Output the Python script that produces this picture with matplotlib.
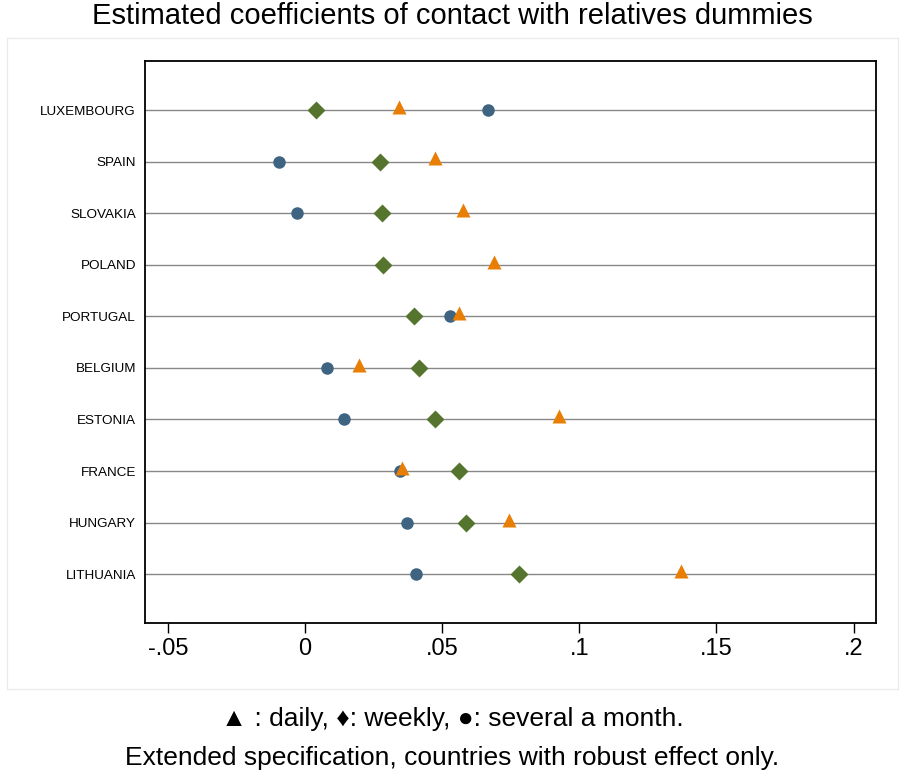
import matplotlib
matplotlib.use("Agg")
import matplotlib.pyplot as plt
from matplotlib.patches import Rectangle

plt.rcParams['font.family'] = ['Liberation Sans', 'DejaVu Sans']

# countries from top to bottom
countries = ["LUXEMBOURG", "SPAIN", "SLOVAKIA", "POLAND", "PORTUGAL",
             "BELGIUM", "ESTONIA", "FRANCE", "HUNGARY", "LITHUANIA"]
# coefficients (None = not robust, not shown)
daily = [0.0343, 0.0474, 0.0577, 0.0688, 0.0563, 0.0197, 0.0925, 0.0354, 0.0745, 0.1372]
weekly = [0.0040, 0.0273, 0.0280, 0.0286, 0.0397, 0.0416, 0.0474, 0.0561, 0.0587, 0.0780]
monthly = [0.0667, -0.0095, -0.0029, None, 0.0529, 0.0080, 0.0143, 0.0348, 0.0372, 0.0405]

xticks = [-0.05, 0, 0.05, 0.1, 0.15, 0.2]
xticklabels = ["-.05", "0", ".05", ".1", ".15", ".2"]

fig = plt.figure(figsize=(9.05, 7.83), dpi=100)
ax = fig.add_axes([145/905, 1-622.7/783, (876-145)/905, (622.7-61)/783])

n = len(countries)
ypos = [n - i for i in range(n)]

for y in ypos:
    ax.axhline(y, color="#888888", lw=1.0, zorder=1)

def pts(vals):
    xs, ys = [], []
    for v, y in zip(vals, ypos):
        if v is not None:
            xs.append(v)
            ys.append(y)
    return xs, ys

x, y = pts(monthly)
ax.plot(x, y, "o", ls="none", color="#3e6482", ms=9, mec="none", zorder=3)
x, y = pts(weekly)
ax.plot(x, y, "D", ls="none", color="#55752f", ms=9.3, mec="none", zorder=3)
x, y = pts(daily)
ax.plot(x, [v + 0.06 for v in y], "^", ls="none", color="#e87e04", ms=10.5, mec="none", zorder=4)

ax.set_xlim(-0.0583, 0.2082)
ax.set_ylim(0.06, 10.95)
ax.set_yticks(ypos)
ax.set_yticklabels(countries, fontsize=9.7)
ax.tick_params(axis="y", length=0, pad=6.5)
ax.set_xticks(xticks)
ax.set_xticklabels(xticklabels, fontsize=17)
ax.tick_params(axis="x", length=7, width=1, pad=4, direction="out")
for s in ax.spines.values():
    s.set_linewidth(1.3)

# faint outer frame of the plot region
fig.patches.append(Rectangle((7/905, 1-689/783), 891/905, 651/783, transform=fig.transFigure,
                             fill=False, edgecolor="#e8ecea", lw=1))

fig.text(0.5, 1-16/783, "Estimated coefficients of contact with relatives dummies",
         ha="center", va="center", fontsize=21)
fig.text(0.5, 1-719/783, "▲ : daily, ♦: weekly, ●: several a month.",
         ha="center", va="center", fontsize=19)
fig.text(0.5, 1-758/783, "Extended specification, countries with robust effect only.",
         ha="center", va="center", fontsize=19)

fig.savefig("out.png", dpi=100)
